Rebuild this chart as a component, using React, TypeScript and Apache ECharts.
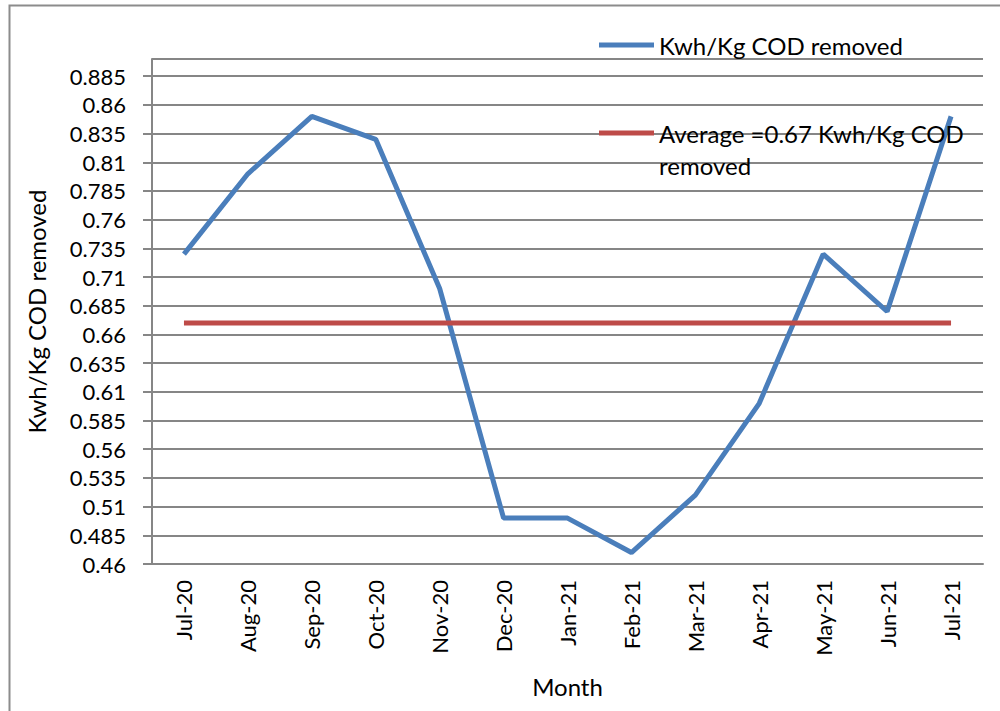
import React, { useEffect, useRef } from "react";
import * as echarts from "echarts";

const months = ["Jul-20", "Aug-20", "Sep-20", "Oct-20", "Nov-20", "Dec-20", "Jan-21", "Feb-21", "Mar-21", "Apr-21", "May-21", "Jun-21", "Jul-21"];
const kwhPerKg = [0.73, 0.8, 0.85, 0.83, 0.7, 0.5, 0.5, 0.47, 0.52, 0.6, 0.73, 0.68, 0.85];
const averageValue = 0.67;
const averageLine = months.map(() => averageValue);
const seriesNames = ["Kwh/Kg COD removed", "Average =0.67 Kwh/Kg COD\nremoved"];
const yMin = 0.46;
const yMax = 0.9;
const yStep = 0.025;

const FONT = "Lato, 'Open Sans', sans-serif";

export default function App() {
  const ref = useRef<HTMLDivElement>(null);
  useEffect(() => {
    if (!ref.current) return;
    const chart = echarts.init(ref.current, null, { renderer: "svg" });
    // offset axis so ticks start exactly at yMin
    const off = (v: number) => +(v - yMin).toFixed(6);
    const legendText = { fontFamily: FONT, fontSize: 24, color: "#000", lineHeight: 32 };
    chart.setOption({
      animation: false,
      textStyle: { fontFamily: FONT },
      graphic: [
        {
          type: "rect",
          shape: { x: 9.5, y: 5.5, width: 1100, height: 800 },
          style: { fill: "none", stroke: "#8c8c8c", lineWidth: 2 },
          silent: true,
          z: -10,
        },
      ],
      legend: [
        {
          data: [seriesNames[0]],
          orient: "vertical",
          left: 599,
          top: 29,
          padding: 0,
          icon: "rect",
          itemWidth: 55,
          itemHeight: 5,
          textStyle: legendText,
        },
        {
          data: [seriesNames[1]],
          orient: "vertical",
          left: 599,
          top: 85,
          padding: 0,
          icon: "rect",
          itemWidth: 55,
          itemHeight: 5,
          formatter: (name: string) => " \n" + name,
          textStyle: legendText,
        },
      ],
      grid: { left: 152, right: 17, top: 59, bottom: 147, containLabel: false },
      xAxis: {
        type: "category",
        data: months,
        boundaryGap: true,
        name: "Month",
        nameLocation: "middle",
        nameGap: 110,
        nameTextStyle: { fontFamily: FONT, fontSize: 24, color: "#000" },
        axisLine: { lineStyle: { color: "#868686", width: 2 } },
        axisTick: { show: false },
        axisLabel: { rotate: 90, margin: 16, fontFamily: FONT, fontSize: 22, color: "#000" },
      },
      yAxis: {
        type: "value",
        min: 0,
        max: off(yMax),
        interval: yStep,
        name: "Kwh/Kg COD removed",
        nameLocation: "middle",
        nameGap: 104,
        nameTextStyle: { fontFamily: FONT, fontSize: 24, color: "#000" },
        axisLine: { show: true, lineStyle: { color: "#868686", width: 2 } },
        axisTick: { show: true, inside: false, length: 9, lineStyle: { color: "#868686", width: 2 } },
        splitLine: { show: true, lineStyle: { color: "#868686", width: 2 } },
        axisLabel: {
          margin: 26,
          fontFamily: FONT,
          fontSize: 22,
          color: "#000",
          formatter: (v: number) => String(+(v + yMin).toFixed(3)),
        },
      },
      series: [
        {
          name: seriesNames[0],
          type: "line",
          data: kwhPerKg.map(off),
          symbol: "none",
          itemStyle: { color: "#4A7EBB" },
          lineStyle: { color: "#4A7EBB", width: 5 },
        },
        {
          name: seriesNames[1],
          type: "line",
          data: averageLine.map(off),
          symbol: "none",
          itemStyle: { color: "#BE4B48" },
          lineStyle: { color: "#BE4B48", width: 5 },
        },
      ],
    });
    return () => chart.dispose();
  }, []);
  return <div ref={ref} style={{ position: "absolute", left: 0, top: 0, width: 1000, height: 711 }} />;
}
